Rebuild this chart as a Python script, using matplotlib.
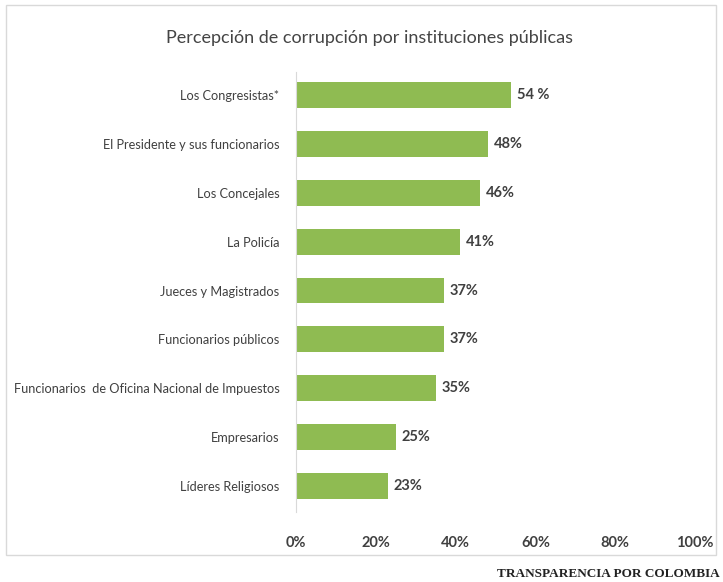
import matplotlib.pyplot as plt
from matplotlib.patches import Rectangle

categories = ["Los Congresistas*", "El Presidente y sus funcionarios", "Los Concejales",
              "La Policía", "Jueces y Magistrados", "Funcionarios públicos",
              "Funcionarios  de Oficina Nacional de Impuestos", "Empresarios",
              "Líderes Religiosos"]
values = [54, 48, 46, 41, 37, 37, 35, 25, 23]
value_labels = ["54 %", "48%", "46%", "41%", "37%", "37%", "35%", "25%", "23%"]
ticks = [0, 20, 40, 60, 80, 100]

W, H = 723, 582
fam = ['Lato', 'DejaVu Sans']
txt = '#404040'

fig = plt.figure(figsize=(W / 100, H / 100), dpi=100)
fig.patches.append(Rectangle((6 / W, 1 - 555 / H), 710 / W, 550 / H,
                             transform=fig.transFigure, fill=False,
                             edgecolor='#d9d9d9', linewidth=1))

ax = fig.add_axes([296 / W, 1 - 512 / H, (695 - 296) / W, (512 - 72) / H])
y = list(range(len(categories)))
ax.barh(y, values, height=0.53, color='#8fbb52')
ax.set_xlim(0, 100)
ax.set_ylim(len(categories) - 0.47, -0.47)
ax.set_yticks(y)
ax.set_yticklabels(categories, family=fam, fontsize=9.2, color=txt)
ax.set_xticks(ticks)
ax.set_xticklabels([f"{t}%" for t in ticks], family=fam, fontsize=10.5,
                   fontweight='bold', color=txt)
ax.tick_params(length=0, axis='y', pad=12)
ax.tick_params(length=0, axis='x', pad=17)
for s in ['top', 'right', 'bottom']:
    ax.spines[s].set_visible(False)
ax.spines['left'].set_color('#d9d9d9')

for yi, v, lab in zip(y, values, value_labels):
    ax.text(v + 1.5, yi, lab, va='center', ha='left', family=fam,
            fontsize=10.5, fontweight='bold', color=txt)

fig.text(369 / W, 1 - 38 / H, "Percepción de corrupción por instituciones públicas",
         ha='center', va='center', family=fam, fontsize=13, color='#444444')
fig.text(720 / W, 1 - 574 / H, "TRANSPARENCIA POR COLOMBIA", ha='right', va='center',
         family=['Liberation Serif', 'DejaVu Serif'], fontsize=9.5, fontweight='bold',
         color='#222222')

fig.savefig('out.png', dpi=100)
